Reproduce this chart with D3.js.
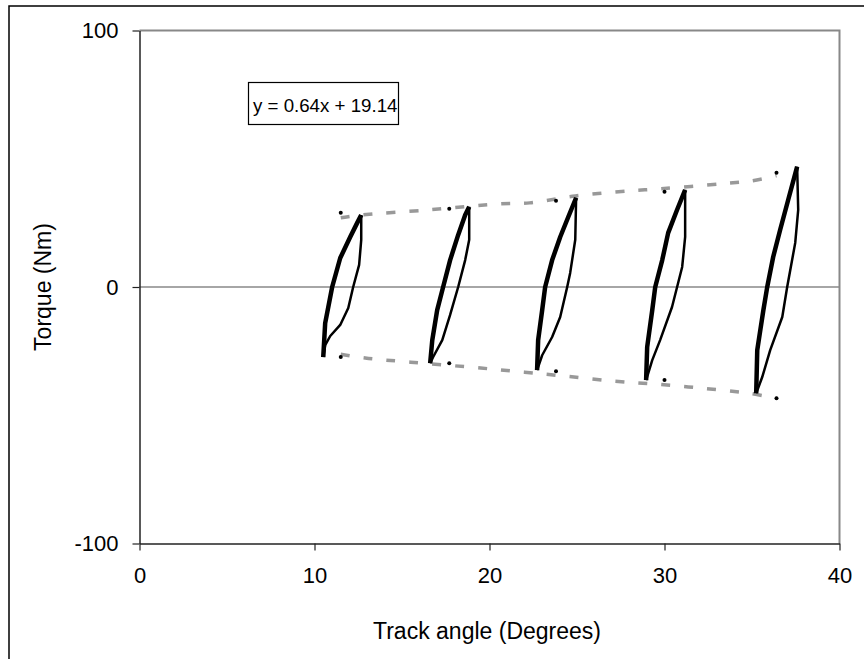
<!DOCTYPE html>
<html>
<head>
<meta charset="utf-8">
<script src="https://cdn.jsdelivr.net/npm/d3@7"></script>
<style>
  html, body { margin: 0; padding: 0; background: #fff; overflow: hidden; }
  svg { display: block; }
  text { font-family: "Liberation Sans", Arial, sans-serif; fill: #000; }
</style>
</head>
<body>
<svg id="chart" width="864" height="659"></svg>
<script>
// tick labels
var xTicks = [0, 10, 20, 30, 40];
var yTicks = [-100, 0, 100];

// hysteresis loops: rising branch then falling branch, [angle, torque]
var loop1Up = [[10.50, -27.3], [10.61, -14.1], [11.01, 0], [11.47, 11.3], [12.04, 19.5], [12.44, 25.0], [12.67, 28.1]];
var loop1Down = [[12.67, 28.1], [12.67, 18.4], [12.55, 8.6], [12.21, 0], [11.93, -8.2], [11.47, -14.8], [10.90, -19.1], [10.61, -22.7], [10.50, -27.3]];
var loop2Up = [[16.61, -29.7], [16.73, -20.7], [17.01, -9.0], [17.35, 0], [17.75, 10.5], [18.21, 20.3], [18.61, 28.1], [18.84, 31.3]];
var loop2Down = [[18.84, 31.3], [18.84, 18.4], [18.61, 10.5], [18.21, 0], [17.75, -10.9], [17.30, -20.7], [16.78, -27.3], [16.61, -29.7]];
var loop3Up = [[22.72, -32.4], [22.78, -20.7], [23.01, -9.0], [23.18, 0], [23.58, 10.5], [24.04, 19.5], [24.50, 27.3], [24.95, 34.8]];
var loop3Down = [[24.95, 34.8], [24.90, 18.4], [24.61, 5.5], [24.44, 0], [24.04, -11.7], [23.58, -19.5], [23.01, -26.6], [22.72, -32.4]];
var loop4Up = [[28.95, -36.3], [29.01, -23.4], [29.30, -9.0], [29.47, 0], [29.87, 10.5], [30.21, 21.1], [30.72, 30.1], [31.18, 37.9]];
var loop4Down = [[31.18, 37.9], [31.18, 19.5], [31.01, 7.8], [30.72, 0], [30.43, -7.8], [29.75, -20.7], [29.30, -28.5], [28.95, -36.3]];
var loop5Up = [[35.24, -41.4], [35.30, -24.6], [35.65, -9.0], [35.87, 0], [36.21, 11.7], [36.61, 22.3], [37.07, 34.0], [37.58, 46.9]];
var loop5Down = [[37.58, 46.9], [37.64, 30.1], [37.47, 17.2], [37.01, 0], [36.73, -11.7], [36.04, -24.6], [35.58, -35.2], [35.24, -41.4]];

// envelope (dashed grey) through the loop peaks
var upperEnvelope = [[11.5, 27.0], [12.7, 28.1], [16.6, 30.1], [20.6, 32.4], [22.3, 32.8], [24.9, 35.5], [28.0, 37.5], [29.8, 38.3], [33.2, 40.2], [35.0, 41.4], [36.4, 43.4]];
var lowerEnvelope = [[11.5, -26.2], [12.9, -27.7], [15.5, -29.3], [19.5, -31.6], [22.0, -33.2], [24.4, -34.8], [27.1, -36.7], [29.6, -37.9], [32.2, -39.5], [34.8, -41.4], [36.4, -43.4]];

// peak markers
var peakTop = [[11.5, 28.9], [17.7, 30.5], [23.8, 33.6], [30.0, 37.1], [36.4, 44.5]];
var peakBottom = [[11.5, -27.3], [17.7, -29.7], [23.8, -32.8], [30.0, -36.3], [36.4, -43.4]];

var fitLabel = 'y = 0.64x + 19.14';

(function() {
  var svg, x, y, line, smooth, plot, upLoops, downLoops;

  svg = d3.select('#chart');

  x = d3.scaleLinear().domain([0, 40]).range([139.5, 839.5]);
  y = d3.scaleLinear().domain([-100, 100]).range([543.5, 30.5]);

  // outer chart border: only top and left edges fall inside the page
  svg.append('path').attr('d', 'M9,659V6H864')
    .attr('fill', 'none').attr('stroke', '#000').attr('stroke-width', 1.5);

  // plot frame (top and right) and zero line
  svg.append('path')
    .attr('d', 'M' + x(0) + ',' + y(100) + 'H' + x(40) + 'V' + y(-100))
    .attr('fill', 'none').attr('stroke', '#888').attr('stroke-width', 2);
  svg.append('line')
    .attr('x1', x(0)).attr('x2', x(40)).attr('y1', y(0)).attr('y2', y(0))
    .attr('stroke', '#888').attr('stroke-width', 1.5);

  var yAxis = svg.append('g').attr('transform', 'translate(' + x(0) + ',0)')
    .call(d3.axisLeft(y).tickValues(yTicks).tickFormat(String)
      .tickSize(7).tickSizeOuter(0).tickPadding(14));
  var xAxis = svg.append('g').attr('transform', 'translate(0,' + y(-100) + ')')
    .call(d3.axisBottom(x).tickValues(xTicks).tickFormat(String)
      .tickSize(7).tickSizeOuter(0).tickPadding(17));

  [yAxis, xAxis].forEach(function(ax) {
    ax.select('.domain').attr('stroke', '#222').attr('stroke-width', 1.5);
    ax.selectAll('.tick line').attr('stroke', '#222').attr('stroke-width', 1.2);
    ax.selectAll('.tick text').attr('font-size', 22).attr('fill', '#000')
      .attr('font-family', '"Liberation Sans", Arial, sans-serif');
  });

  svg.append('text').attr('transform', 'translate(51,' + y(0) + ') rotate(-90)')
    .attr('text-anchor', 'middle').attr('font-size', 23).text('Torque (Nm)');
  svg.append('text').attr('x', 487).attr('y', 639)
    .attr('text-anchor', 'middle').attr('font-size', 23).text('Track angle (Degrees)');

  line = d3.line().x(function(d) { return x(d[0]); }).y(function(d) { return y(d[1]); });
  smooth = d3.line().curve(d3.curveCatmullRom).x(function(d) { return x(d[0]); }).y(function(d) { return y(d[1]); });

  plot = svg.append('g');

  [upperEnvelope, lowerEnvelope].forEach(function(env) {
    plot.append('path').attr('d', smooth(env))
      .attr('fill', 'none').attr('stroke', '#999').attr('stroke-width', 3.5)
      .attr('stroke-dasharray', '9,14');
  });

  upLoops = [loop1Up, loop2Up, loop3Up, loop4Up, loop5Up];
  downLoops = [loop1Down, loop2Down, loop3Down, loop4Down, loop5Down];

  upLoops.forEach(function(d) {
    plot.append('path').attr('d', line(d)).attr('fill', 'none')
      .attr('stroke', '#000').attr('stroke-width', 4.5).attr('stroke-linejoin', 'round');
  });
  downLoops.forEach(function(d) {
    plot.append('path').attr('d', line(d)).attr('fill', 'none')
      .attr('stroke', '#000').attr('stroke-width', 2.5).attr('stroke-linejoin', 'round');
  });

  plot.selectAll('circle.peak').data(peakTop.concat(peakBottom)).enter()
    .append('circle').attr('class', 'peak')
    .attr('cx', function(d) { return x(d[0]); })
    .attr('cy', function(d) { return y(d[1]); })
    .attr('r', 2).attr('fill', '#000');

  // trendline equation box
  var box = svg.append('g').attr('transform', 'translate(248.5,82.5)');
  box.append('rect').attr('width', 150).attr('height', 42)
    .attr('fill', '#fff').attr('stroke', '#000').attr('stroke-width', 1.2);
  box.append('text').attr('x', 4.5).attr('y', 29.5).attr('font-size', 18.7).text(fitLabel);
})();
</script>
</body>
</html>
